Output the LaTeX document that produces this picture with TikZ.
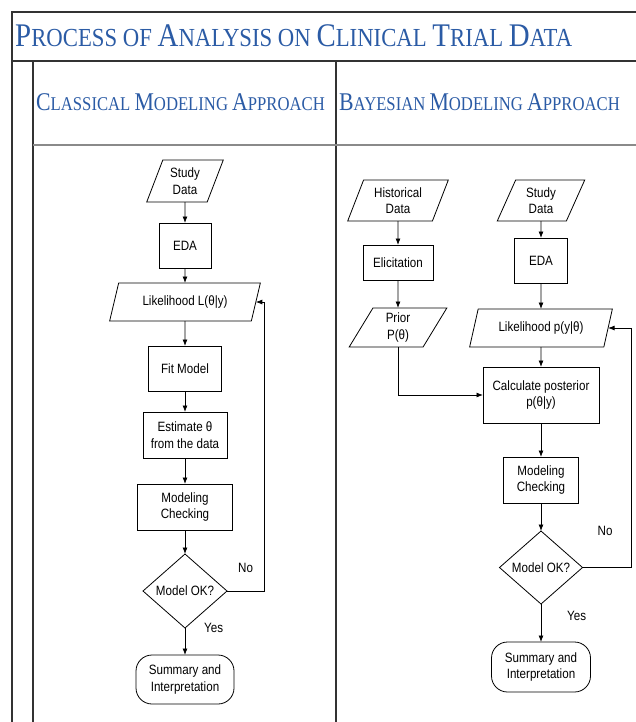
\documentclass[tikz,border=0pt]{standalone}
\usepackage{fontspec}
\setmainfont[FakeStretch=0.86]{Liberation Sans}
\newfontfamily\headfont[FakeStretch=0.875]{Liberation Serif}
\newfontfamily\colfont[FakeStretch=0.855]{Liberation Serif}
\usetikzlibrary{arrows.meta,positioning,shapes.geometric}
\definecolor{headblue}{HTML}{2B5BA5}
\definecolor{framegray}{HTML}{333333}
\definecolor{rulegray}{HTML}{8A8A8A}
\newcommand{\tcap}[1]{{\fontsize{33}{33}\selectfont #1}}
\newcommand{\hcap}[1]{{\fontsize{25.5}{25.5}\selectfont #1}}

\begin{document}
\begin{tikzpicture}[x=1pt, y=-1pt, node distance=20pt, >={Latex[length=6.5pt,width=5pt]},
  every node/.style={font=\fontsize{13.5}{16.5}\selectfont, align=center},
  procbox/.style={draw, rectangle, inner sep=1pt, outer sep=0pt, line width=0.8pt},
  databox/.style={draw, trapezium, trapezium left angle=68, trapezium right angle=112,
    trapezium stretches=true, inner sep=1pt, outer sep=0pt, line width=0.8pt},
  decision/.style={draw, diamond, inner sep=0pt, outer sep=0pt, line width=0.8pt},
  endbox/.style={draw, rounded corners=16pt, inner sep=1pt, outer sep=0pt, line width=0.8pt},
  flow/.style={->, line width=0.8pt},
  tag/.style={inner sep=0pt}]
  \useasboundingbox (0,0) rectangle (636,722);

  % frame and headings
  \draw[framegray, line width=1.6pt] (12,722) -- (12,12) -- (640,12);
  \draw[framegray, line width=1.2pt] (12,61) -- (640,61);
  \draw[framegray, line width=1.2pt] (33,61) -- (33,722);
  \draw[framegray, line width=1.2pt] (336,61) -- (336,722);
  \draw[rulegray, line width=1.2pt] (33,145) -- (640,145);
  \node[anchor=base west, inner sep=0pt, text=headblue, font=\headfont\fontsize{26}{26}\selectfont] (title) at (15,47)
    {\tcap{P}ROCESS OF \tcap{A}NALYSIS ON \tcap{C}LINICAL \tcap{T}RIAL \tcap{D}ATA};
  \node[anchor=base west, inner sep=0pt, text=headblue, font=\colfont\fontsize{19.5}{19.5}\selectfont] (classic) at (36,111)
    {\hcap{C}LASSICAL \hcap{M}ODELING \hcap{A}PPROACH};
  \node[anchor=base west, inner sep=0pt, text=headblue, font=\colfont\fontsize{19.5}{19.5}\selectfont] (bayes) at (339,111)
    {\hcap{B}AYESIAN \hcap{M}ODELING \hcap{A}PPROACH};

  % classical column
  \node[databox, minimum width=77pt, minimum height=42pt] (sd1) at (185,181) {Study\\Data};
  \node[procbox, below=21pt of sd1, minimum width=52pt, minimum height=45pt] (eda1) {EDA};
  \node[databox, below=15pt of eda1, minimum width=151pt, minimum height=38pt] (lik1) {Likelihood L(θ|y)};
  \node[procbox, below=25pt of lik1, minimum width=73pt, minimum height=45pt] (fit1) {Fit Model};
  \node[procbox, below=21pt of fit1, minimum width=84pt, minimum height=46pt] (est1) {Estimate θ\\from the data};
  \node[procbox, below=26pt of est1, minimum width=95pt, minimum height=46pt] (chk1) {Modeling\\Checking};
  \node[decision, below=24pt of chk1, minimum width=84pt, minimum height=74pt] (ok1) {Model OK?};
  \node[endbox, below=27pt of ok1, minimum width=98pt, minimum height=49pt] (sum1) {Summary and\\Interpretation};
  \node[tag, above right=18pt and 11pt of ok1.east] (no1) {No};
  \node[tag, right=19pt of ok1.south] (yes1) {Yes};

  \draw[flow] (sd1) -- (eda1);
  \draw[flow] (eda1) -- (lik1);
  \draw[flow] (lik1) -- (fit1);
  \draw[flow] (fit1) -- (est1);
  \draw[flow] (est1) -- (chk1);
  \draw[flow] (chk1) -- (ok1);
  \draw[flow] (ok1) -- (sum1);
  \draw[flow] (ok1.east) -- ++(37,0) |- (lik1.east);

  % bayesian column
  \node[databox, minimum width=101pt, minimum height=41pt] (hist) at (398,200.5) {Historical\\Data};
  \node[procbox, below=24pt of hist, minimum width=70pt, minimum height=35pt] (elic) {Elicitation};
  \node[databox, below=28pt of elic, minimum width=98pt, minimum height=39pt] (prior) {Prior\\P(θ)};
  \node[databox, minimum width=88pt, minimum height=41pt] (sd2) at (541,200.5) {Study\\Data};
  \node[procbox, below=17pt of sd2, minimum width=53pt, minimum height=45pt] (eda2) {EDA};
  \node[databox, below=26pt of eda2, minimum width=143pt, minimum height=38pt] (lik2) {Likelihood p(y|θ)};
  \node[procbox, below=20pt of lik2, minimum width=116pt, minimum height=56pt] (post) {Calculate posterior\\p(θ|y)};
  \node[procbox, below=34pt of post, minimum width=75pt, minimum height=46pt] (chk2) {Modeling\\Checking};
  \node[decision, below=28pt of chk2, minimum width=83pt, minimum height=73pt] (ok2) {Model OK?};
  \node[endbox, below=38pt of ok2, minimum width=99pt, minimum height=50pt] (sum2) {Summary and\\Interpretation};
  \node[tag, above right=32pt and 15pt of ok2.east] (no2) {No};
  \node[tag, below right=7pt and 26pt of ok2.south] (yes2) {Yes};

  \draw[flow] (hist) -- (elic);
  \draw[flow] (elic) -- (prior);
  \draw[flow] (prior.south) |- (post.west);
  \draw[flow] (sd2) -- (eda2);
  \draw[flow] (eda2) -- (lik2);
  \draw[flow] (lik2) -- (post);
  \draw[flow] (post) -- (chk2);
  \draw[flow] (chk2) -- (ok2);
  \draw[flow] (ok2) -- (sum2);
  \draw[flow] (ok2.east) -- ++(49,0) |- (lik2.east);
\end{tikzpicture}
\end{document}
